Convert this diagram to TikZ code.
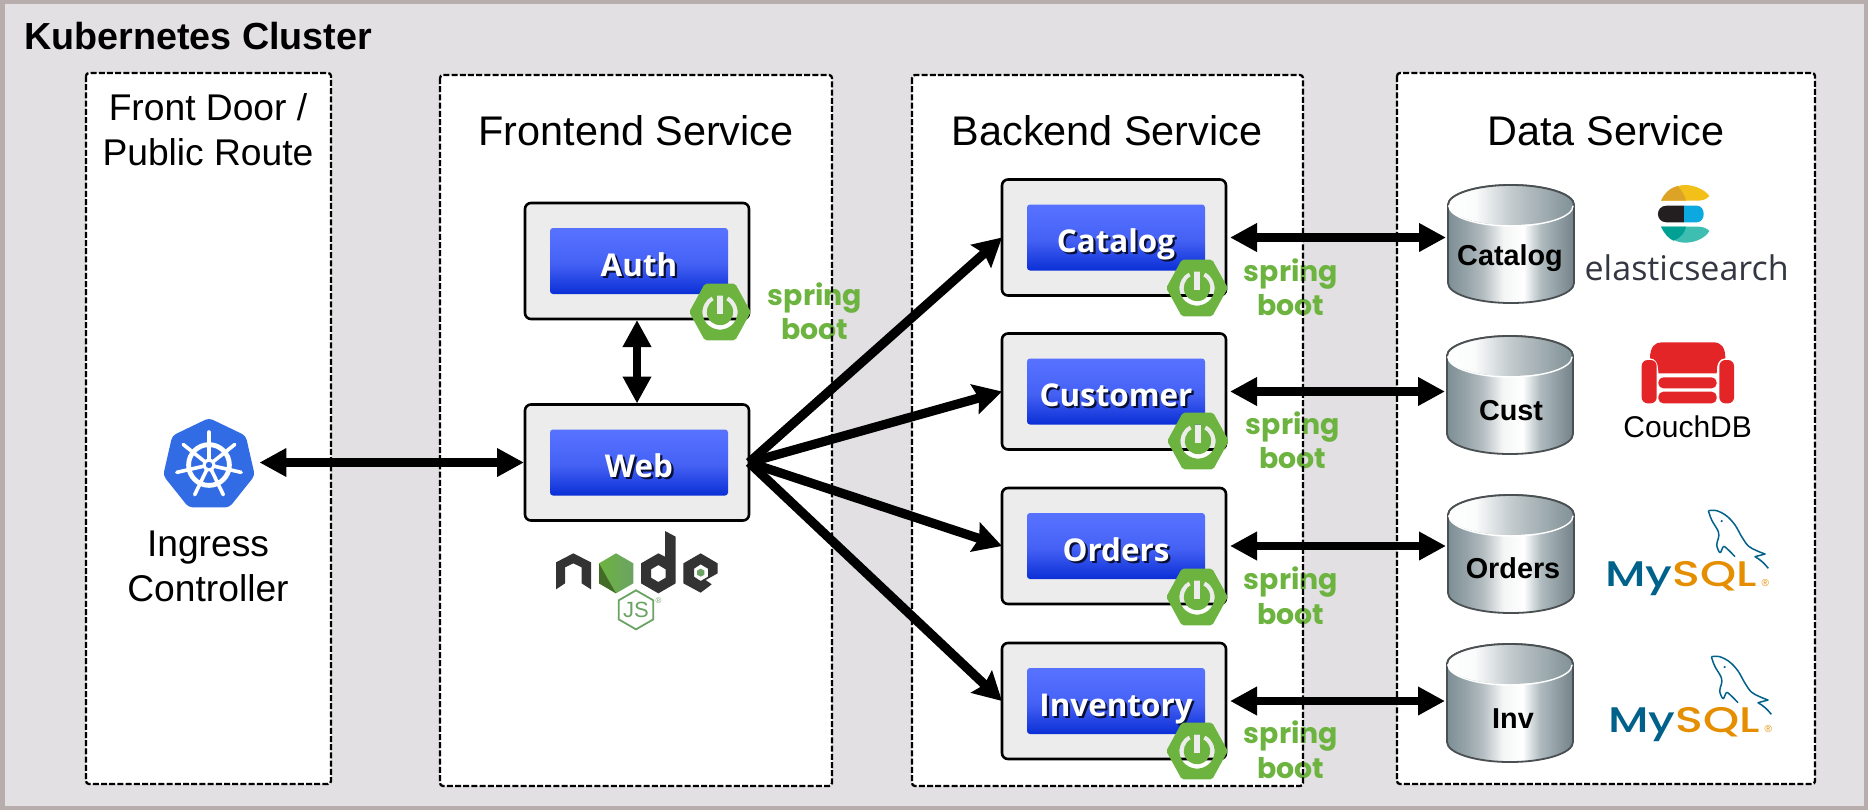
\documentclass[tikz,border=0pt]{standalone}
\usepackage{fontspec}
\usetikzlibrary{arrows.meta}
\setmainfont{Liberation Sans}
\newfontfamily\boxfont{Open Sans}
\newfontfamily\popfont{Poppins}
\newfontfamily\popmed{Poppins Medium}
\newfontfamily\elfont{Open Sans}
\definecolor{framec}{HTML}{B8ADAD}
\definecolor{bgc}{HTML}{E2E0E3}
\definecolor{boxc}{HTML}{ECECEC}
\definecolor{sprc}{HTML}{6DB33F}
\definecolor{k8c}{HTML}{326CE5}
\definecolor{nodedark}{HTML}{333333}
\definecolor{jsc}{HTML}{6BA364}
\definecolor{myblue}{HTML}{00618A}
\definecolor{myorange}{HTML}{E48E00}
\definecolor{couchc}{HTML}{E42528}
\definecolor{cylline}{HTML}{4A4F52}
\definecolor{blA}{HTML}{0A2FD6}
\definecolor{blB}{HTML}{4561F4}
\definecolor{blC}{HTML}{4F6BFC}
\definecolor{blD}{HTML}{5872FF}
\definecolor{cyA}{HTML}{7C8E94}
\definecolor{cyB}{HTML}{98A6AB}
\definecolor{cyC}{HTML}{B4BDC1}
\definecolor{cyD}{HTML}{F4F5F5}
\definecolor{cyE}{HTML}{AEBABE}
\definecolor{cyF}{HTML}{748389}
\definecolor{ctA}{HTML}{FAFBFB}
\definecolor{ctB}{HTML}{C3CBCE}
\definecolor{ctC}{HTML}{A3AFB3}
\definecolor{ctD}{HTML}{7F9096}
\definecolor{esA}{HTML}{F3C019}
\definecolor{esB}{HTML}{DCA327}
\definecolor{esC}{HTML}{231F20}
\definecolor{esD}{HTML}{0CA8E0}
\definecolor{esE}{HTML}{3EBEB0}
\definecolor{esF}{HTML}{00A094}
\definecolor{esT}{HTML}{343741}
\definecolor{txtshadow}{HTML}{081038}
\pgfdeclareverticalshading{bluegrad}{100bp}{
 color(0bp)=(blA); color(25bp)=(blA); color(48bp)=(blB); color(62bp)=(blC); color(75bp)=(blD); color(100bp)=(blD)}
\pgfdeclarehorizontalshading{cylside}{100bp}{
 color(0bp)=(cyA); color(25bp)=(cyA); color(33bp)=(cyB); color(39bp)=(cyC); color(47bp)=(cyD); color(55bp)=(white); color(62bp)=(cyE); color(75bp)=(cyF); color(100bp)=(cyF)}
\pgfdeclarehorizontalshading{cyltop}{100bp}{
 color(0bp)=(white); color(25bp)=(white); color(36bp)=(ctA); color(50bp)=(ctB); color(62bp)=(ctC); color(75bp)=(ctD); color(100bp)=(ctD)}
\newcommand\shtext[1]{\leavevmode\rlap{\raisebox{-1.1pt}{\hspace{1.1pt}\textcolor{txtshadow}{#1}}}\textcolor{white}{#1}}
\tikzset{
 panel/.style={rounded corners=1.5pt},
 panelline/.style={draw=black,line width=1.15pt,dash pattern=on 3pt off 1.1pt,rounded corners=1.5pt},
 svcbox/.style={draw=black,fill=boxc,line width=1.3pt,rounded corners=3pt,minimum width=112pt,minimum height=58pt,inner sep=0pt,outer sep=0pt},
 bluebox/.style={shading=bluegrad,rounded corners=1.5pt,minimum width=89pt,inner sep=0pt,outer sep=0pt,text height=15pt,text depth=0pt,minimum height=33pt,font=\boxfont\bfseries\fontsize{15.7}{18}\selectfont},
 arr/.style={line width=4.2pt,{Stealth[length=13.5pt,width=13.5pt,inset=0pt]}-{Stealth[length=13.5pt,width=13.5pt,inset=0pt]}},
 fan/.style={line width=4.6pt,-{Stealth[length=14pt,width=15pt,inset=2pt]}},
 sprtxt/.style={font=\popfont\bfseries\fontsize{14.2}{16}\selectfont,text=sprc,anchor=base,inner sep=0pt},
 grouptitle/.style={font=\fontsize{20.7}{22}\selectfont,anchor=base,inner sep=0pt},
 sidetxt/.style={font=\fontsize{18.6}{20}\selectfont,anchor=base,inner sep=0pt},
 dblabel/.style={font=\bfseries\fontsize{14.4}{16}\selectfont,anchor=base,inner sep=0pt}
}
\newcommand\svc[4]{%
 \node[svcbox] (#1) at (#2,#3) {};
 \node[bluebox] (#1in) at (#2+2,#3) {\shtext{#4}};}
\newcommand\sprpower[2]{%
 \begin{scope}[shift={(#1,#2)}]
 \path[fill=sprc,even odd rule,rounded corners=1pt] (-15.4pt,0pt) -- (-7.6pt,14.2pt) -- (7.6pt,14.2pt) -- (15.4pt,0pt) -- (7.6pt,-14.2pt) -- (-7.6pt,-14.2pt) -- cycle
  [sharp corners] (62:8.8pt) arc[start angle=62,delta angle=-304,radius=8.8pt] -- (118:6.6pt) arc[start angle=118,delta angle=304,radius=6.6pt] -- cycle
  (-1.6pt,8.2pt) rectangle (1.6pt,-1pt);
 \end{scope}}
\newcommand\dbcyl[6]{% name label xleft ytop xlabel baseline
 \path[shading=cylside,draw=cylline,line width=0.9pt] (#3,#4+20) -- (#3,#4+98) arc[start angle=180,end angle=360,x radius=31.5pt,y radius=10pt] -- (#3+126,#4+20) arc[start angle=0,end angle=180,x radius=31.5pt,y radius=10pt] -- cycle;
 \path[shading=cyltop] (#3+63,#4+20) ellipse[x radius=31.5pt,y radius=10pt];
 \draw[white,line width=0.7pt] (#3+1,#4+21) arc[start angle=180,end angle=360,x radius=31pt,y radius=10pt];
 \draw[cylline,line width=0.9pt] (#3,#4+20) arc[start angle=180,end angle=0,x radius=31.5pt,y radius=10pt];
 \node[dblabel] (#1lab) at (#5,#6) {#2};
 \coordinate (#1) at (#3,#4+59);}
\newcommand\mysqlmark[3]{%
 \begin{scope}[shift={(#2,#3)}]
 \begin{scope}[x=0.16667pt,y=-0.16667pt]
 \draw[myblue,line width=0.75pt,line join=round] plot[smooth,tension=0.6] coordinates {(805,62) (830,62) (860,78) (885,105) (905,140) (925,168) (950,182) (975,192)} -- (945,200) to[out=-30,in=130] (985,235);
 \draw[myblue,line width=0.75pt,line join=round] plot[smooth,tension=0.6] coordinates {(805,62) (815,90) (835,125) (835,145) (830,165) (840,188) (850,170) (860,175) (885,200)};
 \fill[myblue] (845,93) circle[radius=0.6pt];
 \node[inner sep=0pt,anchor=base west] (#1) at (494,290) {\popmed\fontsize{17.8}{20}\selectfont\scalebox{1.29}[1]{\textcolor{myblue}{My}\textcolor{myorange}{SQL}}};
 \node[inner sep=0pt,text=myorange,font=\fontsize{5}{6}\selectfont] (#1r) at (976,278) {®};
 \end{scope}
 \end{scope}}
\begin{document}
\begin{tikzpicture}[x=0.5pt,y=-0.5pt]
\useasboundingbox (0,0) rectangle (1868,810);
\fill[framec] (0,0) rectangle (1868,810);
\fill[bgc] (5,4) rectangle (1864,806);
\node[anchor=base west,inner sep=0pt,font=\bfseries\fontsize{18.85}{20}\selectfont] (title) at (24,49) {Kubernetes Cluster};
% panels
\fill[white,panel] (86,73) rectangle (331,784);
\fill[white,panel] (440,75) rectangle (832,786);
\fill[white,panel] (912,75) rectangle (1303,786);
\fill[white,panel] (1397,73) rectangle (1815,784);
% spring text
\node[sprtxt] (sa1) at (815,305) {spring};
\node[sprtxt] (sa2) at (815,339) {boot};
\node[sprtxt] (sc1) at (1291,281) {spring};
\node[sprtxt] (sc2) at (1291,315) {boot};
\node[sprtxt] (su1) at (1293,434) {spring};
\node[sprtxt] (su2) at (1293,468) {boot};
\node[sprtxt] (so1) at (1291,589) {spring};
\node[sprtxt] (so2) at (1291,624) {boot};
\node[sprtxt] (si1) at (1291,743) {spring};
\node[sprtxt] (si2) at (1291,778) {boot};
\draw[panelline] (86,73) rectangle (331,784);
\draw[panelline] (440,75) rectangle (832,786);
\draw[panelline] (912,75) rectangle (1303,786);
\draw[panelline] (1397,73) rectangle (1815,784);
% titles
\node[sidetxt] (fd1) at (208,120) {Front Door /};
\node[sidetxt] (fd2) at (208,165) {Public Route};
\node[grouptitle] (fs) at (636,145) {Frontend Service};
\node[grouptitle] (bs) at (1107,145) {Backend Service};
\node[grouptitle] (ds) at (1606,145) {Data Service};
\node[sidetxt] (ic1) at (208,556) {Ingress};
\node[sidetxt] (ic2) at (208,601) {Controller};
% service boxes
\svc{auth}{637}{261}{Auth}
\svc{web}{637}{462.5}{Web}
\svc{catalog}{1114}{237.5}{Catalog}
\svc{customer}{1114}{391.5}{Customer}
\svc{orders}{1114}{546}{Orders}
\svc{inventory}{1114}{701}{Inventory}
\sprpower{720}{312}
\sprpower{1197}{288}
\sprpower{1198}{441}
\sprpower{1197}{597}
\sprpower{1197}{751}
% kubernetes
\begin{scope}[shift={(209,465)}]
\node[minimum size=46pt,inner sep=0pt] (ingress) at (0,0) {};
\fill[k8c,rounded corners=2pt] (90:23.5pt) -- (141.43:23.5pt) -- (192.86:23.5pt) -- (244.29:23.5pt) -- (295.71:23.5pt) -- (347.14:23.5pt) -- (38.57:23.5pt) -- cycle;
\draw[white,line width=2.4pt] (0,0) circle[radius=10.2pt];
\foreach \a in {90,141.43,192.86,244.29,295.71,347.14,38.57}
  \draw[white,line width=1.8pt,line cap=round] (0,0) -- (\a:16.5pt);
\fill[white] (0,0) circle[radius=3.2pt];
\fill[k8c] (0,0) circle[radius=1.6pt];
\end{scope}
% node logo
\begin{scope}[shift={(530,530)},x=0.16667pt,y=-0.16667pt]
\fill[nodedark] (78,97) -- (130,70) -- (183,97) -- (183,178) -- (155,160) -- (155,112) -- (130,100) -- (105,112) -- (105,160) -- (78,178) -- cycle;
\shade[left color=sprc,right color=jsc] (258,70) -- (310,100) -- (310,160) -- (258,190) -- (207,160) -- (207,100) -- cycle;
\fill[black!40!sprc] (207,100) -- (235,150) -- (258,190) -- (207,160) -- cycle;
\fill[nodedark,even odd rule] (405,3) -- (437,20) -- (437,160) -- (385,190) -- (333,160) -- (333,100) -- (385,70) -- (405,80) -- cycle
   (385,105) -- (407,118) -- (407,143) -- (385,156) -- (363,143) -- (363,118) -- cycle;
\fill[nodedark,even odd rule] (512,70) -- (563,100) -- (563,130) -- (527,150) -- (545,163) -- (512,188) -- (460,160) -- (460,100) -- cycle
   (512,103) -- (534,116) -- (534,140) -- (512,153) -- (492,140) -- (492,116) -- cycle;
\fill[jsc] (512,116) -- (523,122) -- (523,134) -- (512,140) -- (501,134) -- (501,122) -- cycle;
\draw[jsc,line width=0.9pt] (318,181) -- (370,211) -- (370,268) -- (318,298) -- (266,268) -- (266,211) -- cycle;
\node[inner sep=0pt,text=jsc,font=\fontsize{11}{12}\selectfont] (js) at (318,240) {JS};
\node[inner sep=0pt,text=jsc,font=\fontsize{4}{5}\selectfont] (jsr) at (386,212) {®};
\end{scope}
% elastic + couch
\begin{scope}[shift={(1440,170)},x=0.16667pt,y=-0.16667pt]
\fill[esA] (663,92) .. controls (680,60) and (710,45) .. (735,45) .. controls (765,45) and (795,60) .. (808,78) .. controls (800,88) and (785,92) .. (775,92) -- cycle;
\fill[esB] (663,92) .. controls (675,65) and (695,52) .. (712,48) .. controls (725,60) and (735,78) .. (738,92) -- cycle;
\fill[esC] (680,107) -- (732,107) -- (732,157) -- (680,157) .. controls (645,157) and (645,107) .. (680,107) -- cycle;
\fill[esD] (732,107) -- (770,107) .. controls (798,107) and (798,157) .. (770,157) -- (732,157) -- cycle;
\fill[esE] (663,170) -- (775,170) .. controls (790,170) and (800,175) .. (808,183) .. controls (795,205) and (765,218) .. (735,218) .. controls (705,218) and (680,200) .. (663,170) -- cycle;
\fill[esF] (663,170) -- (738,170) .. controls (735,185) and (725,203) .. (700,212) .. controls (685,205) and (672,190) .. (663,170) -- cycle;
\node[inner sep=0pt,anchor=base,text=esT,font=\elfont\fontsize{17}{18}\selectfont] (es) at (740,332) {elasticsearch};
\fill[couchc] (630,565) .. controls (630,530) and (645,517) .. (665,517) -- (820,517) .. controls (842,517) and (856,530) .. (856,565) .. controls (840,565) and (830,575) .. (830,610) -- (655,610) .. controls (655,575) and (645,565) .. (630,565) -- cycle;
\fill[couchc,rounded corners=3pt] (605,570) rectangle (650,700);
\fill[couchc,rounded corners=3pt] (838,570) rectangle (882,700);
\fill[couchc,rounded corners=2.5pt] (655,622) rectangle (830,655);
\fill[couchc,rounded corners=2.5pt] (655,665) rectangle (830,700);
\node[inner sep=0pt,anchor=base,font=\fontsize{15}{16}\selectfont] (cdb) at (743,802) {CouchDB};
\end{scope}
\mysqlmark{mysqla}{1440}{490}
\mysqlmark{mysqlb}{1443}{636}
% databases
\dbcyl{catdb}{Catalog}{1448}{185}{1510}{265}
\dbcyl{custdb}{Cust}{1447}{336}{1511}{420}
\dbcyl{orddb}{Orders}{1448}{495}{1513}{578}
\dbcyl{invdb}{Inv}{1447}{644}{1513}{728}
% connectors
\draw[arr,shorten <=2pt,shorten >=0.5pt] (ingress.east |- web.west) -- (web.west);
\draw[arr,shorten <=0.5pt,shorten >=0.5pt] (auth.south) -- (web.north);
\draw[fan] (web.east) -- (catalog.west);
\draw[fan] (web.east) -- (customer.west);
\draw[fan] (web.east) -- (orders.west);
\draw[fan] (web.east) -- (inventory.west);
\draw[arr,shorten <=2pt,shorten >=1pt] (catalog.east) -- (catalog.east -| catdb);
\draw[arr,shorten <=2pt,shorten >=1pt] (customer.east) -- (customer.east -| custdb);
\draw[arr,shorten <=2pt,shorten >=1pt] (orders.east) -- (orders.east -| orddb);
\draw[arr,shorten <=2pt,shorten >=1pt] (inventory.east) -- (inventory.east -| invdb);
\end{tikzpicture}
\end{document}
